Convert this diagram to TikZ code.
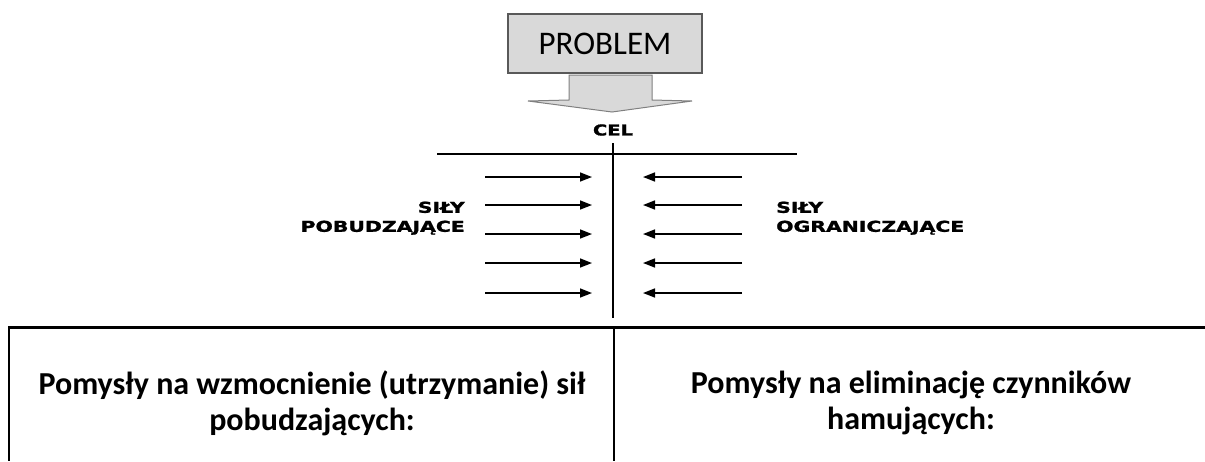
\documentclass[tikz,border=0pt]{standalone}
\usepackage{fontspec}
\setmainfont{Carlito}
\newfontfamily\verd{DejaVu Sans}[BoldFeatures={FakeBold=1.2}]
\usetikzlibrary{arrows.meta}
\definecolor{boxfill}{HTML}{D9D9D9}
\definecolor{boxline}{HTML}{595959}
\definecolor{arrline}{HTML}{808080}
\tikzset{
  probbox/.style={draw=boxline, fill=boxfill, line width=1.2pt, minimum width=194pt, minimum height=59pt, inner sep=0pt, font=\fontsize{33}{33}\selectfont},
  blockarrow/.style={draw=arrline, fill=boxfill, line width=1pt, line join=miter},
  axisline/.style={line width=1.8pt, black},
  force/.style={line width=1.6pt, -{Triangle[length=12pt,width=9pt]}},
  forcelabel/.style={inner sep=0pt, font=\verd\bfseries\fontsize{15}{19}\selectfont},
  celtext/.style={inner sep=0pt, font=\verd\bfseries\fontsize{15}{15}\selectfont},
  tabletop/.style={line width=3pt, black},
  tableside/.style={line width=2pt, black},
  tablediv/.style={line width=1.3pt, black},
  idea/.style={inner sep=0pt, align=center, font=\bfseries\fontsize{32}{36}\selectfont}
}
\begin{document}
\begin{tikzpicture}[x=1pt,y=-1pt]
\useasboundingbox (0,0) rectangle (1205,461);
\fill[white] (0,0) rectangle (1205,461);

% problem box and block arrow
\node[probbox] (prob) at (605,43.5) {PROBLEM};
\draw[blockarrow] (569,75) -- (652,75) -- (652,100) -- (692,101) -- (612,112) -- (528,101) -- (569,100) -- cycle;

% goal
\node[celtext] (cel) at (613,130) {\scalebox{1.3}[1]{CEL}};
\coordinate (hL) at (437,154);
\coordinate (hR) at (797,154);
\coordinate (vT) at (613,143);
\coordinate (vB) at (613,318);
\draw[axisline] (hL) -- (hR);
\draw[axisline] (vT) -- (vB);

% driving forces
\foreach \i/\yy in {1/177,2/205,3/234,4/263,5/293}{
  \coordinate (ls\i) at (485,\yy);
  \coordinate (le\i) at (592,\yy);
  \coordinate (rs\i) at (742,\yy);
  \coordinate (re\i) at (643,\yy);
  \draw[force] (ls\i) -- (le\i);
  \draw[force] (rs\i) -- (re\i);
}

\node[forcelabel, anchor=east] (drive) at (465,218.5) {\scalebox{1.36}[1]{\begin{tabular}{@{}r@{}}SIŁY\\POBUDZAJĄCE\end{tabular}}};
\node[forcelabel, anchor=west] (restrain) at (776,218.5) {\scalebox{1.36}[1]{\begin{tabular}{@{}l@{}}SIŁY\\OGRANICZAJĄCE\end{tabular}}};

% table
\coordinate (tTL) at (8,327);
\coordinate (tTR) at (1205,327);
\coordinate (tBL) at (9,461);
\coordinate (dT) at (614,327);
\coordinate (dB) at (614,461);
\draw[tabletop] (tTL) -- (tTR);
\draw[tableside] (9,327) -- (tBL);
\draw[tablediv] (dT) -- (dB);

\node[idea] (ideaL) at (312,403) {Pomysły na wzmocnienie (utrzymanie) sił\\pobudzających:};
\node[idea] (ideaR) at (911,403) {Pomysły na eliminację czynników\\hamujących:};
\end{tikzpicture}
\end{document}
